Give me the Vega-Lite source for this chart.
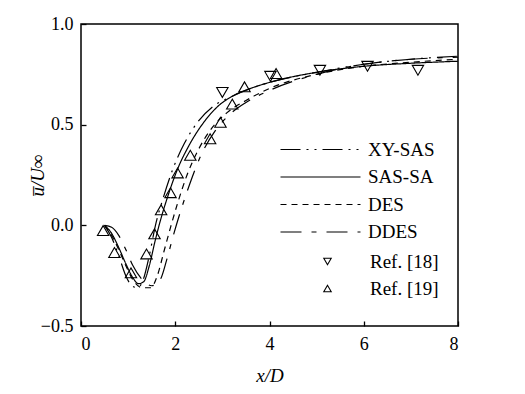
{
  "$schema": "https://vega.github.io/schema/vega-lite/v6.json",
  "width": 377,
  "height": 302,
  "autosize": {"type": "none"},
  "padding": {"left": 81, "top": 24, "right": 67, "bottom": 68},
  "background": "white",
  "config": {
    "view": {"stroke": "black", "strokeWidth": 1.5},
    "font": "Liberation Serif",
    "axis": {
      "grid": false,
      "domain": false,
      "ticks": true,
      "tickColor": "black",
      "tickWidth": 1.3,
      "tickSize": -5,
      "labelColor": "black",
      "labelFont": "Liberation Serif",
      "labelFontSize": 18,
      "titleFont": "Liberation Serif",
      "titleFontSize": 19,
      "titleFontStyle": "italic",
      "titleFontWeight": "normal",
      "titleColor": "black"
    },
    "legend": {
      "labelFont": "Liberation Serif",
      "labelFontSize": 19,
      "labelColor": "black"
    }
  },
  "datasets": {
    "lines": [
      {"series": "XY-SAS", "x": 0.5, "y": 0.0},
      {"series": "XY-SAS", "x": 0.65, "y": -0.06},
      {"series": "XY-SAS", "x": 0.8, "y": -0.15},
      {"series": "XY-SAS", "x": 0.95, "y": -0.25},
      {"series": "XY-SAS", "x": 1.08, "y": -0.3},
      {"series": "XY-SAS", "x": 1.2, "y": -0.31},
      {"series": "XY-SAS", "x": 1.32, "y": -0.27},
      {"series": "XY-SAS", "x": 1.45, "y": -0.15},
      {"series": "XY-SAS", "x": 1.58, "y": 0.0},
      {"series": "XY-SAS", "x": 1.75, "y": 0.14},
      {"series": "XY-SAS", "x": 1.95, "y": 0.28},
      {"series": "XY-SAS", "x": 2.2, "y": 0.41},
      {"series": "XY-SAS", "x": 2.5, "y": 0.52},
      {"series": "XY-SAS", "x": 2.8, "y": 0.59},
      {"series": "XY-SAS", "x": 3.2, "y": 0.64},
      {"series": "XY-SAS", "x": 3.6, "y": 0.68},
      {"series": "XY-SAS", "x": 4.0, "y": 0.71},
      {"series": "XY-SAS", "x": 5.0, "y": 0.76},
      {"series": "XY-SAS", "x": 6.0, "y": 0.8},
      {"series": "XY-SAS", "x": 7.0, "y": 0.825},
      {"series": "XY-SAS", "x": 8.0, "y": 0.84},
      {"series": "SAS-SA", "x": 0.5, "y": 0.0},
      {"series": "SAS-SA", "x": 0.65, "y": -0.04},
      {"series": "SAS-SA", "x": 0.8, "y": -0.11},
      {"series": "SAS-SA", "x": 0.95, "y": -0.19},
      {"series": "SAS-SA", "x": 1.1, "y": -0.26},
      {"series": "SAS-SA", "x": 1.22, "y": -0.29},
      {"series": "SAS-SA", "x": 1.33, "y": -0.28},
      {"series": "SAS-SA", "x": 1.45, "y": -0.2},
      {"series": "SAS-SA", "x": 1.57, "y": -0.08},
      {"series": "SAS-SA", "x": 1.68, "y": 0.02},
      {"series": "SAS-SA", "x": 1.85, "y": 0.15},
      {"series": "SAS-SA", "x": 2.05, "y": 0.28},
      {"series": "SAS-SA", "x": 2.3, "y": 0.4},
      {"series": "SAS-SA", "x": 2.6, "y": 0.51},
      {"series": "SAS-SA", "x": 2.9, "y": 0.59},
      {"series": "SAS-SA", "x": 3.2, "y": 0.64},
      {"series": "SAS-SA", "x": 3.6, "y": 0.68},
      {"series": "SAS-SA", "x": 4.0, "y": 0.71},
      {"series": "SAS-SA", "x": 5.0, "y": 0.76},
      {"series": "SAS-SA", "x": 6.0, "y": 0.79},
      {"series": "SAS-SA", "x": 7.0, "y": 0.805},
      {"series": "SAS-SA", "x": 8.0, "y": 0.815},
      {"series": "DES", "x": 0.5, "y": 0.0},
      {"series": "DES", "x": 0.65, "y": -0.05},
      {"series": "DES", "x": 0.8, "y": -0.12},
      {"series": "DES", "x": 0.95, "y": -0.2},
      {"series": "DES", "x": 1.1, "y": -0.27},
      {"series": "DES", "x": 1.3, "y": -0.31},
      {"series": "DES", "x": 1.48, "y": -0.31},
      {"series": "DES", "x": 1.62, "y": -0.25},
      {"series": "DES", "x": 1.76, "y": -0.13},
      {"series": "DES", "x": 1.9, "y": -0.01},
      {"series": "DES", "x": 2.05, "y": 0.11},
      {"series": "DES", "x": 2.25, "y": 0.25},
      {"series": "DES", "x": 2.5, "y": 0.38},
      {"series": "DES", "x": 2.8, "y": 0.49},
      {"series": "DES", "x": 3.1, "y": 0.56},
      {"series": "DES", "x": 3.5, "y": 0.62},
      {"series": "DES", "x": 4.0, "y": 0.68},
      {"series": "DES", "x": 5.0, "y": 0.75},
      {"series": "DES", "x": 6.0, "y": 0.79},
      {"series": "DES", "x": 7.0, "y": 0.81},
      {"series": "DES", "x": 8.0, "y": 0.825},
      {"series": "DDES", "x": 0.5, "y": 0.0},
      {"series": "DDES", "x": 0.65, "y": -0.01},
      {"series": "DDES", "x": 0.8, "y": -0.05},
      {"series": "DDES", "x": 0.95, "y": -0.12},
      {"series": "DDES", "x": 1.1, "y": -0.2},
      {"series": "DDES", "x": 1.3, "y": -0.27},
      {"series": "DDES", "x": 1.5, "y": -0.3},
      {"series": "DDES", "x": 1.68, "y": -0.27},
      {"series": "DDES", "x": 1.82, "y": -0.17},
      {"series": "DDES", "x": 1.96, "y": -0.05},
      {"series": "DDES", "x": 2.1, "y": 0.06},
      {"series": "DDES", "x": 2.3, "y": 0.2},
      {"series": "DDES", "x": 2.55, "y": 0.35},
      {"series": "DDES", "x": 2.85, "y": 0.47},
      {"series": "DDES", "x": 3.15, "y": 0.55},
      {"series": "DDES", "x": 3.5, "y": 0.61},
      {"series": "DDES", "x": 4.0, "y": 0.67},
      {"series": "DDES", "x": 5.0, "y": 0.75},
      {"series": "DDES", "x": 6.0, "y": 0.8},
      {"series": "DDES", "x": 7.0, "y": 0.825},
      {"series": "DDES", "x": 8.0, "y": 0.835}
    ],
    "points": [
      {"series": "Ref. [18]", "x": 3.0, "y": 0.66},
      {"series": "Ref. [18]", "x": 4.02, "y": 0.74},
      {"series": "Ref. [18]", "x": 5.07, "y": 0.77},
      {"series": "Ref. [18]", "x": 6.08, "y": 0.79},
      {"series": "Ref. [18]", "x": 7.15, "y": 0.77},
      {"series": "Ref. [19]", "x": 0.47, "y": -0.026},
      {"series": "Ref. [19]", "x": 0.71, "y": -0.135},
      {"series": "Ref. [19]", "x": 1.06, "y": -0.236},
      {"series": "Ref. [19]", "x": 1.39, "y": -0.142},
      {"series": "Ref. [19]", "x": 1.56, "y": -0.042},
      {"series": "Ref. [19]", "x": 1.7, "y": 0.077},
      {"series": "Ref. [19]", "x": 1.9, "y": 0.162},
      {"series": "Ref. [19]", "x": 2.05, "y": 0.26},
      {"series": "Ref. [19]", "x": 2.32, "y": 0.348},
      {"series": "Ref. [19]", "x": 2.74, "y": 0.43},
      {"series": "Ref. [19]", "x": 2.96, "y": 0.512},
      {"series": "Ref. [19]", "x": 3.21, "y": 0.602},
      {"series": "Ref. [19]", "x": 3.47, "y": 0.688},
      {"series": "Ref. [19]", "x": 4.14, "y": 0.754}
    ]
  },
  "layer": [
    {
      "data": {"name": "lines"},
      "mark": {"type": "line", "color": "black", "strokeWidth": 1.2, "interpolate": "monotone"},
      "encoding": {
        "x": {
          "field": "x", "type": "quantitative",
          "scale": {"domain": [0, 8], "nice": false},
          "axis": {"values": [0, 2, 4, 6, 8], "format": "d", "labelPadding": 14, "title": "x/D", "titlePadding": 13}
        },
        "y": {
          "field": "y", "type": "quantitative",
          "scale": {"domain": [-0.5, 1.0], "nice": false},
          "axis": {"values": [-0.5, 0, 0.5, 1.0], "format": ".1f", "labelPadding": 13, "title": "u̅/U∞", "titlePadding": -7}
        },
        "strokeDash": {
          "field": "series", "type": "nominal",
          "scale": {
            "domain": ["XY-SAS", "SAS-SA", "DES", "DDES"],
            "range": [[20, 6, 2, 6, 2, 6], [1, 0], [6, 5], [21, 10, 5, 10]]
          },
          "legend": {
            "orient": "none",
            "legendX": 190,
            "legendY": 116,
            "title": null,
            "symbolType": "M0,0H16",
            "symbolSize": 100,
            "symbolStrokeWidth": 1.2,
            "symbolStrokeColor": "black",
            "labelOffset": 78,
            "rowPadding": 7.5
          }
        }
      }
    },
    {
      "data": {"name": "points"},
      "mark": {"type": "point", "filled": false, "color": "black", "size": 130, "strokeWidth": 1.1, "opacity": 1},
      "encoding": {
        "x": {"field": "x", "type": "quantitative"},
        "y": {"field": "y", "type": "quantitative"},
        "shape": {
          "field": "series", "type": "nominal",
          "scale": {"domain": ["Ref. [18]", "Ref. [19]"], "range": ["triangle-down", "triangle-up"]},
          "legend": {
            "orient": "none",
            "legendX": 237,
            "legendY": 228,
            "title": null,
            "symbolSize": 55,
            "symbolStrokeWidth": 1.1,
            "symbolStrokeColor": "black",
            "symbolFillColor": "transparent",
            "labelOffset": 33,
            "rowPadding": 7
          }
        }
      }
    }
  ]
}
